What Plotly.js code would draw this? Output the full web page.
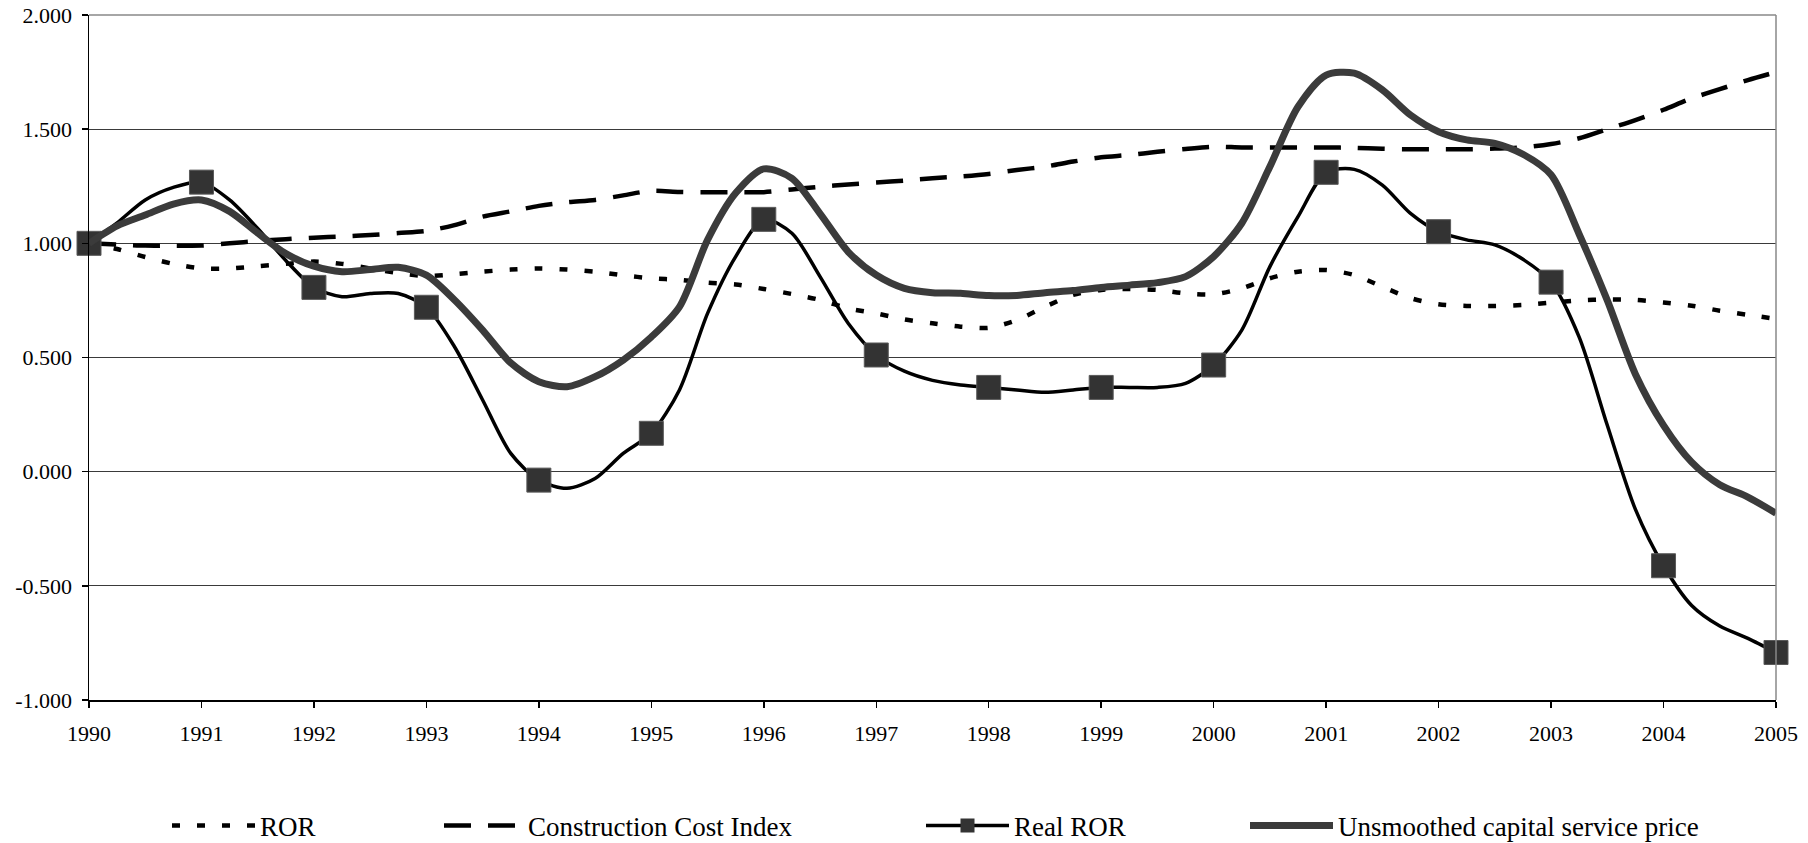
<!DOCTYPE html>
<html>
<head>
<meta charset="utf-8">
<script src="https://cdn.plot.ly/plotly-3.0.1.min.js"></script>
<style>html,body{margin:0;padding:0;background:#fff;}</style>
</head>
<body>
<div id="chart" style="width:1808px;height:843px;"></div>
<script>
// Quarterly time points
const quarters = [
  1990, 1990.25, 1990.5, 1990.75, 1991, 1991.25, 1991.5, 1991.75,
  1992, 1992.25, 1992.5, 1992.75, 1993, 1993.25, 1993.5, 1993.75,
  1994, 1994.25, 1994.5, 1994.75, 1995, 1995.25, 1995.5, 1995.75,
  1996, 1996.25, 1996.5, 1996.75, 1997, 1997.25, 1997.5, 1997.75,
  1998, 1998.25, 1998.5, 1998.75, 1999, 1999.25, 1999.5, 1999.75,
  2000, 2000.25, 2000.5, 2000.75, 2001, 2001.25, 2001.5, 2001.75,
  2002, 2002.25, 2002.5, 2002.75, 2003, 2003.25, 2003.5, 2003.75,
  2004, 2004.25, 2004.5, 2004.75, 2005
];

const ror = [
  1.00, 0.975, 0.94, 0.91,  0.89, 0.89, 0.90, 0.91,
  0.92, 0.91, 0.89, 0.87,   0.857, 0.865, 0.876, 0.885,
  0.89, 0.885, 0.876, 0.86, 0.847, 0.84, 0.828, 0.82,
  0.80, 0.778, 0.752, 0.715, 0.693, 0.667, 0.65, 0.635,
  0.63, 0.664, 0.722, 0.774, 0.796, 0.80, 0.796, 0.781,
  0.777, 0.803, 0.847, 0.876, 0.883, 0.861, 0.81, 0.76,
  0.733, 0.726, 0.726, 0.73, 0.74, 0.75, 0.754, 0.752,
  0.741, 0.727, 0.705, 0.687, 0.669
];

const constructionCostIndex = [
  1.00, 0.995, 0.99, 0.99,  0.99, 1.00, 1.01, 1.018,
  1.025, 1.03, 1.036, 1.045, 1.054, 1.08, 1.117, 1.14,
  1.164, 1.18, 1.19, 1.21,  1.23, 1.225, 1.224, 1.224,
  1.224, 1.236, 1.248, 1.258, 1.266, 1.275, 1.285, 1.293,
  1.304, 1.321, 1.336, 1.358, 1.377, 1.387, 1.401, 1.413,
  1.423, 1.42, 1.42, 1.42,  1.42, 1.418, 1.414, 1.412,
  1.412, 1.412, 1.415, 1.42, 1.435, 1.46, 1.50, 1.54,
  1.585, 1.635, 1.675, 1.715, 1.75
];

const realRor = [
  1.00, 1.09, 1.19, 1.245,  1.268, 1.19, 1.065, 0.925,
  0.807, 0.766, 0.78, 0.78, 0.72, 0.547, 0.314, 0.08,
  -0.037, -0.073, -0.03, 0.08, 0.168, 0.358, 0.693, 0.942,
  1.105, 1.044, 0.854, 0.65, 0.511, 0.44, 0.40, 0.38,
  0.369, 0.358, 0.348, 0.358, 0.369, 0.369, 0.369, 0.387,
  0.467, 0.62, 0.898, 1.117, 1.311, 1.324, 1.255, 1.131,
  1.051, 1.015, 0.993, 0.93, 0.83, 0.589, 0.203, -0.165,
  -0.412, -0.586, -0.676, -0.73, -0.792
];

const unsmoothedPrice = [
  1.00, 1.076, 1.124, 1.172, 1.19, 1.14, 1.045, 0.955,
  0.90, 0.876, 0.885, 0.895, 0.861, 0.752, 0.62, 0.476,
  0.394, 0.372, 0.416, 0.489, 0.59, 0.722, 1.015, 1.22,
  1.326, 1.285, 1.13, 0.963, 0.861, 0.803, 0.784, 0.781,
  0.771, 0.772, 0.784, 0.793, 0.807, 0.817, 0.828, 0.854,
  0.942, 1.088, 1.336, 1.598, 1.737, 1.745, 1.672, 1.562,
  1.489, 1.453, 1.438, 1.39, 1.30, 1.04, 0.75, 0.427,
  0.203, 0.042, -0.057, -0.111, -0.182
];

const seriesNames = ["ROR", "Construction Cost Index", "Real ROR", "Unsmoothed capital service price"];
const yearTicks = [1990,1991,1992,1993,1994,1995,1996,1997,1998,1999,2000,2001,2002,2003,2004,2005];
const yearLabels = ["1990","1991","1992","1993","1994","1995","1996","1997","1998","1999","2000","2001","2002","2003","2004","2005"];
const yTickVals = [-1, -0.5, 0, 0.5, 1, 1.5, 2];
const yTickLabels = ["-1.000", "-0.500", "0.000", "0.500", "1.000", "1.500", "2.000"];

// yearly marker points taken from the quarterly Real ROR series
const markerX = quarters.filter((q, i) => i % 4 === 0);
const markerY = realRor.filter((v, i) => i % 4 === 0);

const FONT = "Liberation Serif, 'Times New Roman', serif";
const GREY = "#3b3b3b";
const MARK = "#333333";

const traces = [
  {
    x: quarters, y: ror, name: seriesNames[0], type: "scatter", mode: "lines",
    line: {color: "#000", width: 4.5, dash: "8px,17px", shape: "spline", smoothing: 0.8},
    legend: "legend", hoverinfo: "skip"
  },
  {
    x: quarters, y: constructionCostIndex, name: seriesNames[1], type: "scatter", mode: "lines",
    line: {color: "#000", width: 4.5, dash: "27px,17px", shape: "spline", smoothing: 0.8},
    legend: "legend2", hoverinfo: "skip"
  },
  {
    x: quarters, y: realRor, name: seriesNames[2], type: "scatter", mode: "lines",
    line: {color: "#000", width: 3.5, shape: "spline", smoothing: 0.8},
    showlegend: false, legend: "legend3", hoverinfo: "skip"
  },
  {
    x: markerX, y: markerY, name: seriesNames[2], type: "scatter", mode: "markers",
    marker: {symbol: "square", size: 24, color: MARK, line: {color: "#5a5a5a", width: 1}},
    showlegend: false, cliponaxis: false, legend: "legend3", hoverinfo: "skip"
  },
  {
    x: [null], y: [null], name: seriesNames[2], type: "scatter", mode: "lines+markers",
    line: {color: "#000", width: 3.5},
    marker: {symbol: "square", size: 14, color: MARK},
    legend: "legend3", hoverinfo: "skip"
  },
  {
    x: quarters, y: unsmoothedPrice, name: seriesNames[3], type: "scatter", mode: "lines",
    line: {color: GREY, width: 7, shape: "spline", smoothing: 0.8},
    legend: "legend4", hoverinfo: "skip"
  }
];

const W = 1808, H = 843;
function leg(xpx, iw) {
  return {
    orientation: "h", xref: "container", yref: "container",
    x: xpx / W, xanchor: "left", y: 1 - 826 / H, yanchor: "middle",
    font: {family: FONT, size: 27, color: "#000"}, itemwidth: iw,
    bgcolor: "rgba(0,0,0,0)", borderwidth: 0
  };
}

const layout = {
  width: W, height: H,
  margin: {l: 89, r: 32, t: 15, b: 143, pad: 0, autoexpand: false},
  paper_bgcolor: "#fff", plot_bgcolor: "#fff",
  font: {family: FONT, color: "#000", size: 22},
  showlegend: true,
  xaxis: {
    range: [1990, 2005], tickmode: "array", tickvals: yearTicks, ticktext: yearLabels,
    ticks: "outside", ticklen: 6, tickwidth: 1.5, tickcolor: "#000",
    showline: true, linecolor: "#000", linewidth: 1.5,
    showgrid: false, zeroline: false, fixedrange: true, automargin: false,
    ticklabelstandoff: 7,
    tickfont: {family: FONT, size: 22, color: "#000"}
  },
  yaxis: {
    range: [-1, 2], tickmode: "array", tickvals: yTickVals, ticktext: yTickLabels,
    ticks: "outside", ticklen: 6, tickwidth: 1.5, tickcolor: "#000",
    showline: true, linecolor: "#000", linewidth: 1.5,
    showgrid: true, gridcolor: "#3a3a3a", gridwidth: 1,
    zeroline: false, fixedrange: true, automargin: false, ticklabelstandoff: 5,
    tickfont: {family: FONT, size: 22, color: "#000"}
  },
  shapes: [
    {type: "line", xref: "paper", yref: "paper", x0: 0, x1: 1, y0: 1, y1: 1, line: {color: "#888", width: 1.5}},
    {type: "line", xref: "paper", yref: "paper", x0: 1, x1: 1, y0: 0, y1: 1, line: {color: "#888", width: 1.5}}
  ],
  legend: leg(167, 83),
  legend2: leg(439, 79),
  legend3: leg(921, 83),
  legend4: leg(1245, 83)
};

Plotly.newPlot("chart", traces, layout, {displayModeBar: false, staticPlot: true});
</script>
</body>
</html>
